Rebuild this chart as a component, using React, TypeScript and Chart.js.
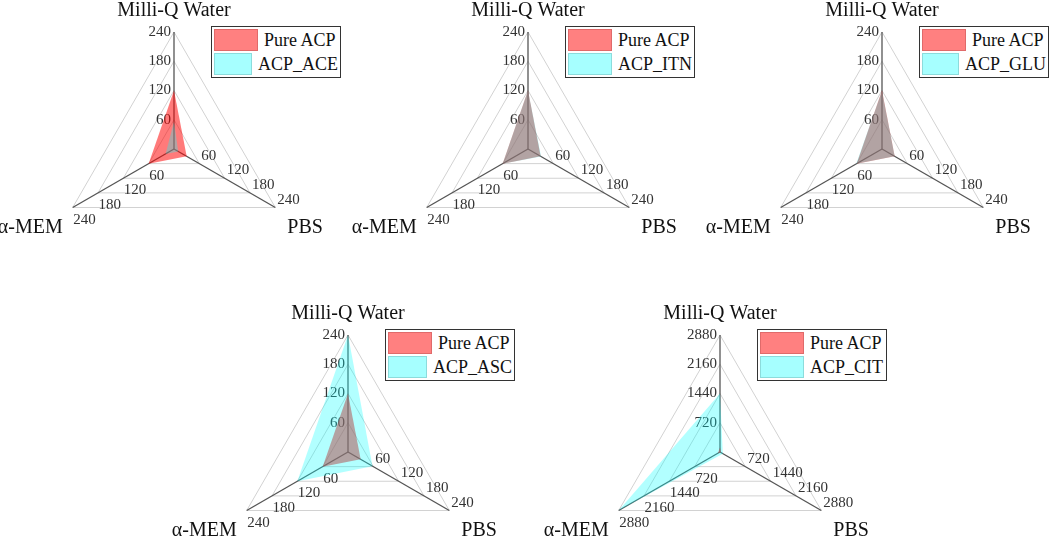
import { useEffect, useRef } from 'react';
import { Chart, registerables } from 'chart.js';

Chart.register(...registerables);

// axes in clockwise order, starting at the top
const axes = ['Milli-Q Water', 'PBS', 'α-MEM'];

const pureACP = [120, 30, 60];
const acpACE = [56, 10, 20];
const acpITN = [120, 31, 60];
const acpGLU = [119, 30, 61];
const acpASC = [240, 58, 120];
const acpCIT = [1440, 80, 2880];

const sampleNames = ['ACP_ACE', 'ACP_ITN', 'ACP_GLU', 'ACP_ASC', 'ACP_CIT'];
const sampleValues = [acpACE, acpITN, acpGLU, acpASC, acpCIT];
const scaleMax = [240, 240, 240, 240, 2880];
const scaleStep = [60, 60, 60, 60, 720];

// where each panel sits on the page: x of the top axis, y of its tip
const panelX = [174, 528, 882, 348, 720];
const panelTop = [32, 32, 32, 335, 335];

const RED = 'rgba(255, 0, 0, 0.52)';
const CYAN = 'rgba(0, 255, 255, 0.3)';
const SERIF = '"Liberation Serif", "Times New Roman", serif';

const W = 352;
const H = 235;
const RADIUS = 117;
const OFFSET_TOP = 34;

// tick labels along all three axes plus the axis titles, drawn under the fills
const triLabels = {
    id: 'triLabels',
    beforeDatasetsDraw(chart: any) {
        const s = chart.scales.r;
        const ctx = chart.ctx;
        ctx.save();
        ctx.font = '15px ' + SERIF;
        ctx.fillStyle = '#333';
        s.ticks.forEach((t: any) => {
            if (t.value === 0) return;
            const txt = String(t.value);
            let p = s.getPointPositionForValue(0, t.value);
            ctx.textAlign = 'right';
            ctx.textBaseline = 'middle';
            ctx.fillText(txt, p.x - 3, p.y);
            ctx.textAlign = 'left';
            ctx.textBaseline = 'alphabetic';
            p = s.getPointPositionForValue(1, t.value);
            ctx.fillText(txt, p.x + 2, p.y - 4);
            p = s.getPointPositionForValue(2, t.value);
            ctx.fillText(txt, p.x + 0.5, p.y + 16);
        });

        const labels = chart.data.labels;
        ctx.font = '20px ' + SERIF;
        ctx.fillStyle = '#111';
        ctx.textBaseline = 'alphabetic';
        let p = s.getPointPositionForValue(0, s.max);
        ctx.textAlign = 'center';
        ctx.fillText(labels[0], p.x, p.y - 16);
        p = s.getPointPositionForValue(1, s.max);
        ctx.textAlign = 'left';
        ctx.fillText(labels[1], p.x + 12, p.y + 25);
        p = s.getPointPositionForValue(2, s.max);
        ctx.textAlign = 'right';
        ctx.fillText(labels[2], p.x - 10, p.y + 25);
        ctx.restore();
    }
};

function RadarPanel({ idx }: { idx: number }) {
    const ref = useRef<HTMLCanvasElement>(null);

    useEffect(() => {
        if (!ref.current) return;
        const chart = new Chart(ref.current, {
            type: 'radar',
            data: {
                labels: axes,
                datasets: [
                    // higher order is painted first, so the sample sits on top of Pure ACP
                    { label: 'Pure ACP', data: pureACP, backgroundColor: RED, borderWidth: 0, pointRadius: 0, fill: 'shape', order: 1 },
                    { label: sampleNames[idx], data: sampleValues[idx], backgroundColor: CYAN, borderWidth: 0, pointRadius: 0, fill: 'shape', order: 0 }
                ]
            },
            options: {
                responsive: false,
                animation: false,
                events: [],
                plugins: { legend: { display: false }, tooltip: { enabled: false } },
                scales: {
                    r: {
                        min: 0,
                        max: scaleMax[idx],
                        ticks: { display: false, stepSize: scaleStep[idx] },
                        grid: { color: '#d2d2d2', lineWidth: 1 },
                        angleLines: { color: '#555', lineWidth: 1.3 },
                        pointLabels: { display: false },
                        afterFit: (s: any) => {
                            s.xCenter = W / 2;
                            s.yCenter = OFFSET_TOP + RADIUS;
                            s.drawingArea = RADIUS;
                        }
                    }
                }
            } as any,
            plugins: [triLabels]
        });
        return () => chart.destroy();
    }, [idx]);

    const legendRow = (name: string, fill: string, edge: string, gap: number) => (
        <div style={{ display: 'flex', alignItems: 'center', height: 22, marginBottom: gap }}>
            <div style={{ width: 44, height: 22, boxSizing: 'border-box', background: fill, border: '1px solid ' + edge }} />
            <span style={{ marginLeft: 6, fontFamily: SERIF, fontSize: 18, lineHeight: '22px', color: '#111' }}>{name}</span>
        </div>
    );

    return (
        <>
            <canvas
                ref={ref}
                width={W}
                height={H}
                style={{ position: 'absolute', left: panelX[idx] - W / 2, top: panelTop[idx] - OFFSET_TOP, width: W, height: H }}
            />
            <div style={{
                position: 'absolute',
                left: panelX[idx] + 37,
                top: panelTop[idx] - 6,
                width: 130,
                height: 52,
                boxSizing: 'border-box',
                border: '1px solid #333',
                background: '#fff',
                padding: 2
            }}>
                {legendRow('Pure ACP', '#ff8080', '#e06a6a', 2)}
                {legendRow(sampleNames[idx], '#a6ffff', '#8cdcdc', 0)}
            </div>
        </>
    );
}

export default function App() {
    return (
        <div style={{ position: 'absolute', left: 0, top: 0, width: 1052, height: 536, overflow: 'hidden', background: '#fff' }}>
            {sampleNames.map((_, i) => <RadarPanel key={i} idx={i} />)}
        </div>
    );
}
